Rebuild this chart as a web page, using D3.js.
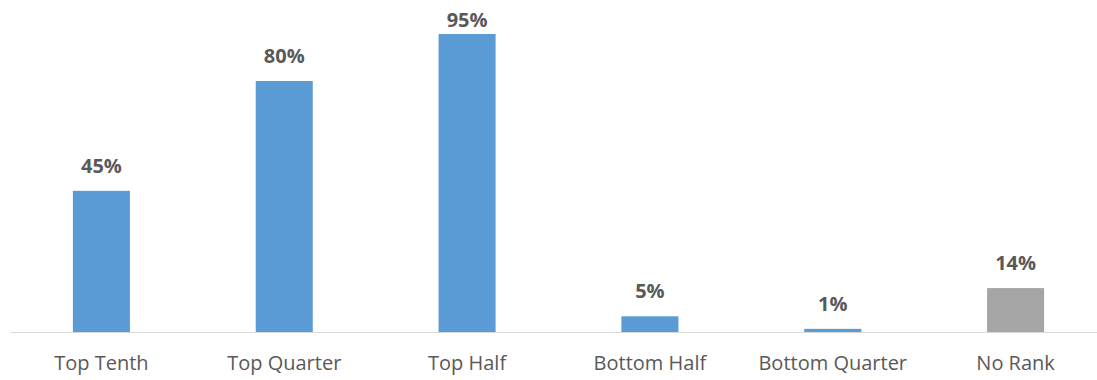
<!DOCTYPE html>
<html>
<head>
<meta charset="utf-8">
<script src="https://cdn.jsdelivr.net/npm/d3@7"></script>
<style>
  html, body { margin: 0; padding: 0; background: #fff; }
  svg { display: block; }
</style>
</head>
<body>
<svg id="chart" width="1097" height="380"></svg>
<script>
// Share of ranks by category
const categories = ["Top Tenth", "Top Quarter", "Top Half", "Bottom Half", "Bottom Quarter", "No Rank"];
const values = [0.45, 0.80, 0.95, 0.05, 0.01, 0.14];
const barColors = ["#5B9BD5", "#5B9BD5", "#5B9BD5", "#5B9BD5", "#5B9BD5", "#A5A5A5"];

const svg = d3.select("#chart");
const baseY = 332;

const x = d3.scaleBand()
  .domain(categories)
  .range([10, 1107])
  .paddingInner(0.688)
  .paddingOuter(0.344);

const y = d3.scaleLinear()
  .domain([0, 1])
  .range([baseY, 18.3]);

// bars
svg.append("g").selectAll("rect")
  .data(categories)
  .join("rect")
  .attr("x", d => x(d))
  .attr("width", x.bandwidth())
  .attr("y", (d, i) => y(values[i]))
  .attr("height", (d, i) => baseY - y(values[i]))
  .attr("fill", (d, i) => barColors[i]);

// category axis
const axis = svg.append("g")
  .attr("transform", `translate(0,${baseY})`)
  .call(d3.axisBottom(x).tickSize(0).tickPadding(24));
axis.select(".domain").attr("stroke", "#D9D9D9").attr("stroke-width", 1.2)
  .attr("d", "M10,0.5H1097");
axis.selectAll("text")
  .attr("fill", "#595959")
  .style("font-family", "'Open Sans', sans-serif")
  .style("font-size", "20px");

// value labels, kept inside the top edge
svg.append("g").selectAll("text")
  .data(categories)
  .join("text")
  .attr("x", d => x(d) + x.bandwidth() / 2)
  .attr("y", (d, i) => Math.max(27, y(values[i]) - 18))
  .attr("text-anchor", "middle")
  .attr("fill", "#595959")
  .style("font-family", "'Open Sans', sans-serif")
  .style("font-weight", "bold")
  .style("font-size", "20px")
  .text((d, i) => d3.format(".0%")(values[i]));
</script>
</body>
</html>
